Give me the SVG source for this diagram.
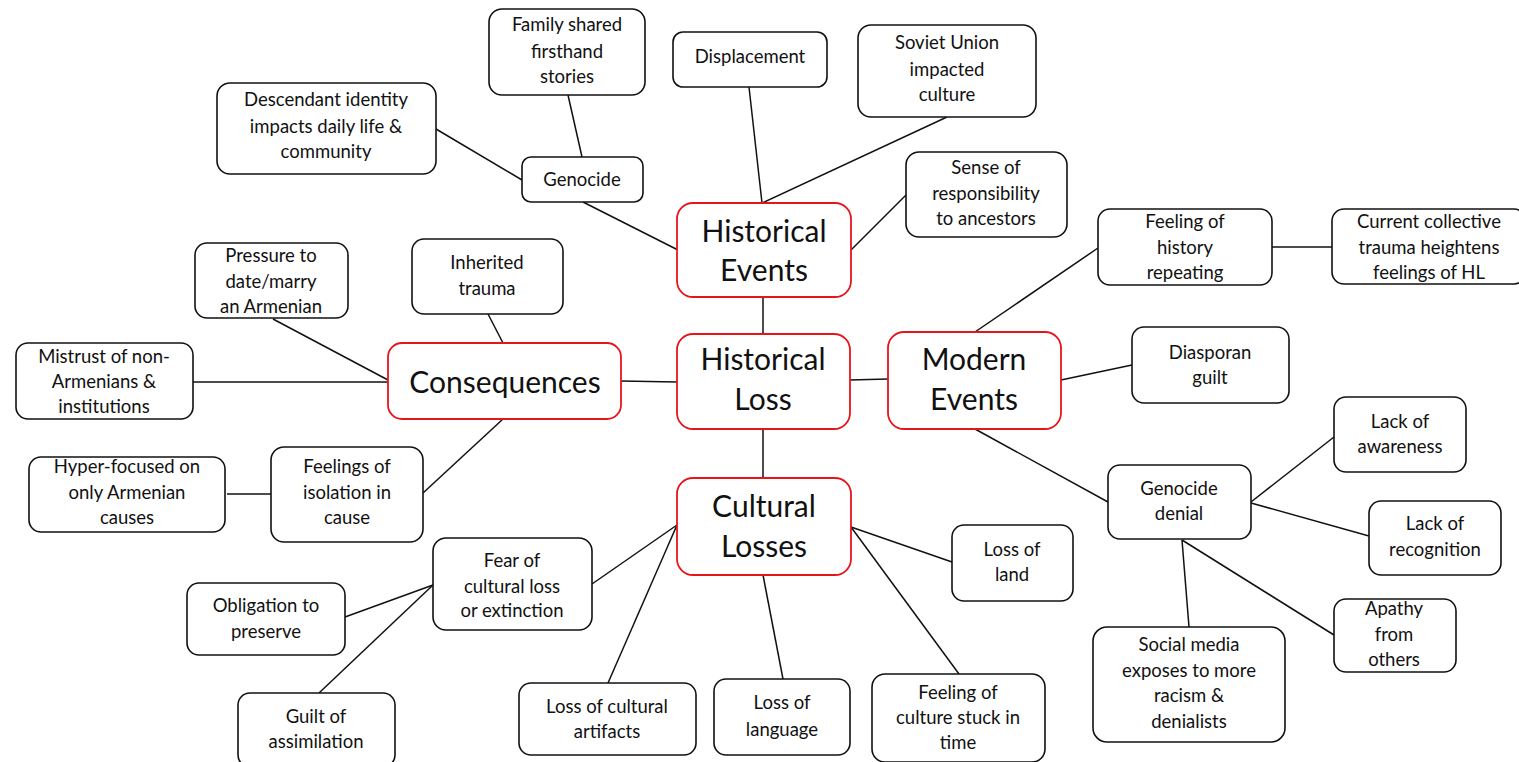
<svg xmlns="http://www.w3.org/2000/svg" width="1519" height="762" viewBox="0 0 1519 762">
<style>
.n rect{fill:#fff;stroke:#111;stroke-width:1.6}
.m rect{fill:#fff;stroke:#e8141b;stroke-width:1.8}
text{font-family:Lato,"Liberation Sans",sans-serif;fill:#111;text-anchor:middle}
.n text{font-size:18.5px}
.m text{font-size:30px}
#connectors line{stroke:#111;stroke-width:1.5}
</style>
<rect width="1519" height="762" fill="#fff"/>
<g id="connectors">
<line x1="568" y1="95" x2="582" y2="157"/>
<line x1="436" y1="129" x2="522" y2="180"/>
<line x1="583" y1="202" x2="678" y2="250"/>
<line x1="749" y1="87" x2="762" y2="203"/>
<line x1="947" y1="117" x2="762" y2="203"/>
<line x1="906" y1="195" x2="851" y2="250"/>
<line x1="763" y1="297" x2="763" y2="334"/>
<line x1="763" y1="429" x2="763" y2="478"/>
<line x1="850" y1="380" x2="888" y2="379"/>
<line x1="621" y1="381" x2="677" y2="382"/>
<line x1="273" y1="319" x2="388" y2="380"/>
<line x1="193" y1="382" x2="388" y2="382"/>
<line x1="488" y1="314" x2="503" y2="343"/>
<line x1="503" y1="419" x2="423" y2="493"/>
<line x1="227" y1="494" x2="271" y2="494"/>
<line x1="592" y1="584" x2="677" y2="525"/>
<line x1="345" y1="617" x2="433" y2="585"/>
<line x1="319" y1="693" x2="433" y2="585"/>
<line x1="608" y1="683" x2="677" y2="525"/>
<line x1="851" y1="527" x2="952" y2="562"/>
<line x1="851" y1="527" x2="959" y2="674"/>
<line x1="763" y1="575" x2="783" y2="679"/>
<line x1="975" y1="332" x2="1098" y2="248"/>
<line x1="1272" y1="247" x2="1332" y2="247"/>
<line x1="1061" y1="380" x2="1132" y2="365"/>
<line x1="975" y1="429" x2="1108" y2="502"/>
<line x1="1251" y1="502" x2="1334" y2="437"/>
<line x1="1251" y1="503" x2="1369" y2="536"/>
<line x1="1182" y1="540" x2="1334" y2="635"/>
<line x1="1182" y1="540" x2="1189" y2="627"/>
</g>
<g id="n-family" class="n"><rect x="489" y="9" width="156" height="86" rx="13"/><text x="567" y="31">Family shared</text><text x="567" y="58">firsthand</text><text x="567" y="83">stories</text></g>
<g id="n-descendant" class="n"><rect x="217" y="83" width="219" height="91" rx="13"/><text x="326" y="106">Descendant identity</text><text x="326" y="133">impacts daily life &amp;</text><text x="326" y="158">community</text></g>
<g id="n-genocide" class="n"><rect x="522" y="157" width="121" height="45" rx="9"/><text x="582" y="186">Genocide</text></g>
<g id="n-displacement" class="n"><rect x="673" y="32" width="154" height="55" rx="10"/><text x="750" y="63">Displacement</text></g>
<g id="n-soviet" class="n"><rect x="858" y="25" width="178" height="92" rx="13"/><text x="947" y="49">Soviet Union</text><text x="947" y="76">impacted</text><text x="947" y="101">culture</text></g>
<g id="n-sense" class="n"><rect x="906" y="152" width="161" height="85" rx="13"/><text x="986" y="174">Sense of</text><text x="986" y="200">responsibility</text><text x="986" y="225">to ancestors</text></g>
<g id="n-hist-events" class="m"><rect x="677" y="203" width="174" height="94" rx="16"/><text x="764" y="242">Historical</text><text x="764" y="281">Events</text></g>
<g id="n-hist-loss" class="m"><rect x="677" y="334" width="173" height="95" rx="16"/><text x="763" y="370">Historical</text><text x="763" y="410">Loss</text></g>
<g id="n-modern" class="m"><rect x="888" y="332" width="173" height="97" rx="16"/><text x="974" y="370">Modern</text><text x="974" y="410">Events</text></g>
<g id="n-cultural" class="m"><rect x="677" y="478" width="174" height="97" rx="16"/><text x="764" y="517">Cultural</text><text x="764" y="557">Losses</text></g>
<g id="n-consequences" class="m"><rect x="388" y="343" width="233" height="76" rx="14"/><text x="505" y="393">Consequences</text></g>
<g id="n-pressure" class="n"><rect x="195" y="243" width="153" height="75" rx="12"/><text x="271" y="262">Pressure to</text><text x="271" y="288">date/marry</text><text x="271" y="313">an Armenian</text></g>
<g id="n-inherited" class="n"><rect x="412" y="239" width="151" height="75" rx="12"/><text x="487" y="269">Inherited</text><text x="487" y="295">trauma</text></g>
<g id="n-mistrust" class="n"><rect x="16" y="343" width="177" height="76" rx="12"/><text x="104" y="363">Mistrust of non-</text><text x="104" y="388">Armenians &amp;</text><text x="104" y="413">institutions</text></g>
<g id="n-hyper" class="n"><rect x="29" y="457" width="196" height="75" rx="12"/><text x="127" y="473">Hyper-focused on</text><text x="127" y="499">only Armenian</text><text x="127" y="524">causes</text></g>
<g id="n-isolation" class="n"><rect x="271" y="447" width="152" height="95" rx="13"/><text x="347" y="473">Feelings of</text><text x="347" y="499">isolation in</text><text x="347" y="524">cause</text></g>
<g id="n-fear" class="n"><rect x="433" y="538" width="159" height="92" rx="13"/><text x="512" y="567">Fear of</text><text x="512" y="593">cultural loss</text><text x="512" y="617">or extinction</text></g>
<g id="n-obligation" class="n"><rect x="187" y="583" width="158" height="72" rx="12"/><text x="266" y="612">Obligation to</text><text x="266" y="638">preserve</text></g>
<g id="n-guilt" class="n"><rect x="238" y="693" width="157" height="74" rx="12"/><text x="316" y="723">Guilt of</text><text x="316" y="748">assimilation</text></g>
<g id="n-artifacts" class="n"><rect x="519" y="683" width="177" height="72" rx="12"/><text x="607" y="713">Loss of cultural</text><text x="607" y="738">artifacts</text></g>
<g id="n-language" class="n"><rect x="714" y="679" width="136" height="76" rx="12"/><text x="782" y="709">Loss of</text><text x="782" y="736">language</text></g>
<g id="n-stuck" class="n"><rect x="872" y="674" width="173" height="88" rx="13"/><text x="958" y="699">Feeling of</text><text x="958" y="724">culture stuck in</text><text x="958" y="749">time</text></g>
<g id="n-land" class="n"><rect x="952" y="525" width="121" height="76" rx="12"/><text x="1012" y="556">Loss of</text><text x="1012" y="581">land</text></g>
<g id="n-repeating" class="n"><rect x="1098" y="209" width="174" height="76" rx="12"/><text x="1185" y="228">Feeling of</text><text x="1185" y="254">history</text><text x="1185" y="279">repeating</text></g>
<g id="n-current" class="n"><rect x="1332" y="209" width="194" height="75" rx="12"/><text x="1429" y="228">Current collective</text><text x="1429" y="254">trauma heightens</text><text x="1429" y="279">feelings of HL</text></g>
<g id="n-diasporan" class="n"><rect x="1132" y="327" width="157" height="76" rx="12"/><text x="1210" y="359">Diasporan</text><text x="1210" y="384">guilt</text></g>
<g id="n-denial" class="n"><rect x="1108" y="465" width="143" height="74" rx="12"/><text x="1179" y="495">Genocide</text><text x="1179" y="520">denial</text></g>
<g id="n-awareness" class="n"><rect x="1334" y="397" width="132" height="75" rx="12"/><text x="1400" y="428">Lack of</text><text x="1400" y="453">awareness</text></g>
<g id="n-recognition" class="n"><rect x="1369" y="501" width="132" height="74" rx="12"/><text x="1435" y="530">Lack of</text><text x="1435" y="556">recognition</text></g>
<g id="n-apathy" class="n"><rect x="1334" y="599" width="122" height="73" rx="12"/><text x="1394" y="615">Apathy</text><text x="1394" y="641">from</text><text x="1394" y="666">others</text></g>
<g id="n-social" class="n"><rect x="1093" y="627" width="192" height="115" rx="14"/><text x="1189" y="651">Social media</text><text x="1189" y="677">exposes to more</text><text x="1189" y="702">racism &amp;</text><text x="1189" y="728">denialists</text></g>
</svg>
